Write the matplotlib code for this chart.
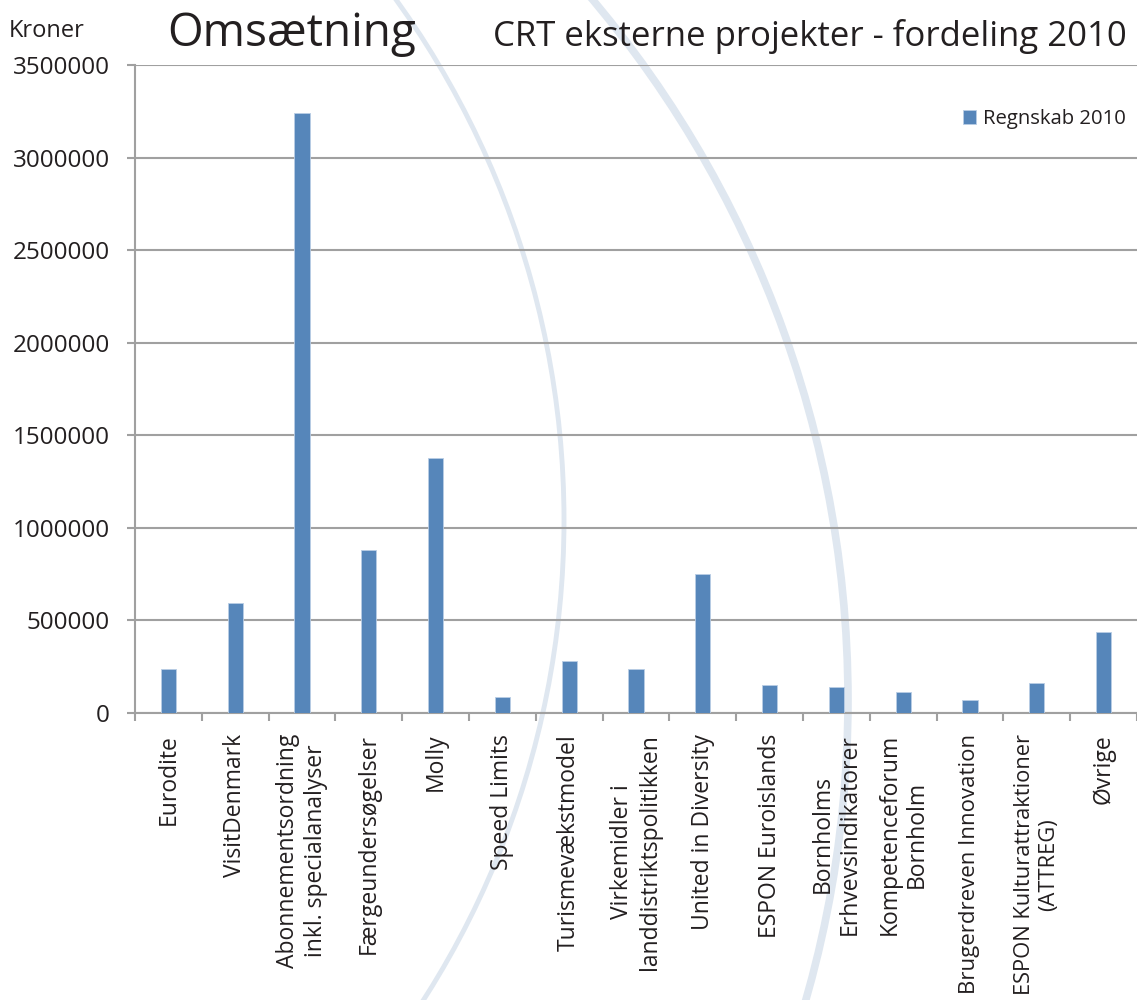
import numpy as np
import matplotlib
matplotlib.use("Agg")
import matplotlib.pyplot as plt
from matplotlib.patches import Circle

plt.rcParams['font.family'] = ['Open Sans', 'DejaVu Sans']

# Data
categories = [
    "Eurodite",
    "VisitDenmark",
    "Abonnementsordning\ninkl. specialanalyser",
    "Færgeundersøgelser",
    "Molly",
    "Speed Limits",
    "Turismevækstmodel",
    "Virkemidler i\nlanddistriktspolitikken",
    "United in Diversity",
    "ESPON Euroislands",
    "Bornholms\nErhvevsindikatorer",
    "Kompetenceforum\nBornholm",
    "Brugerdreven Innovation",
    "ESPON Kulturattraktioner\n(ATTREG)",
    "Øvrige",
]
regnskab_2010 = [240000, 593000, 3243000, 878000, 1380000, 87000, 280000,
                 236000, 749000, 149000, 138000, 115000, 71000, 162000, 435000]
y_ticks = [0, 500000, 1000000, 1500000, 2000000, 2500000, 3000000, 3500000]
series_name = "Regnskab 2010"

BAR_COLOR = "#5686BA"
GRID_COLOR = "#a0a0a0"
TEXT_COLOR = "#231f20"
ARC_COLOR = "#dfe7f0"

W, H = 1137, 1000
fig = plt.figure(figsize=(W / 100, H / 100), dpi=100)

# decorative background arcs (pixel coordinates)
bg = fig.add_axes([0, 0, 1, 1], zorder=0)
bg.set_xlim(0, W)
bg.set_ylim(H, 0)
bg.axis("off")
bg.add_patch(Circle((-326, 520), 890, fill=False, lw=3.5, ec=ARC_COLOR))
bg.add_patch(Circle((-240, 700), 1088, fill=False, lw=5.5, ec=ARC_COLOR))

# main chart
left, right, top, bottom = 135, 1137, 65, 713
ax = fig.add_axes([left / W, 1 - bottom / H, (right - left) / W, (bottom - top) / H], zorder=1)
ax.patch.set_alpha(0)

x = np.arange(len(categories))
ax.bar(x, regnskab_2010, width=0.23, color=BAR_COLOR, edgecolor="#b9cde5",
       linewidth=0.6, zorder=3, label=series_name)

ax.set_xlim(-0.5, len(categories) - 0.5)
ax.set_ylim(0, 3500000)
ax.set_yticks(y_ticks)
ax.set_yticklabels([str(v) for v in y_ticks])
ax.yaxis.grid(True, color=GRID_COLOR, lw=1.5)
ax.set_axisbelow(True)

ax.set_xticks(np.arange(-0.5, len(categories), 1))
ax.set_xticklabels([])
ax.set_xticks(x, minor=True)
ax.set_xticklabels(categories, minor=True, rotation=90, fontsize=16.5,
                   color=TEXT_COLOR, ha="center", va="top", multialignment="center")

ax.tick_params(axis="y", length=6, width=1.5, color=GRID_COLOR, labelsize=17.5,
               labelcolor=TEXT_COLOR, pad=12)
ax.tick_params(axis="x", which="major", length=6, width=1.5, color=GRID_COLOR)
ax.tick_params(axis="x", which="minor", length=0, pad=15)

for s in ["top", "right"]:
    ax.spines[s].set_visible(False)
for s in ["left", "bottom"]:
    ax.spines[s].set_color(GRID_COLOR)
    ax.spines[s].set_linewidth(1.5)

leg = ax.legend(loc="upper right", bbox_to_anchor=(1126 / W, 1 - 109 / H),
                bbox_transform=fig.transFigure, frameon=False, fontsize=14.6,
                handlelength=0.65, handleheight=0.65, handletextpad=0.35,
                borderaxespad=0, borderpad=0)
for t in leg.get_texts():
    t.set_color(TEXT_COLOR)

# titles
fig.text(9 / W, 1 - 37 / H, "Kroner", fontsize=17, color=TEXT_COLOR, va="baseline")
fig.text(167 / W, 1 - 46 / H, "Omsætning", fontsize=33, color=TEXT_COLOR, va="baseline")
fig.text(1127 / W, 1 - 46 / H, "CRT eksterne projekter - fordeling 2010", fontsize=25,
         color=TEXT_COLOR, va="baseline", ha="right")

# shrink the longest category labels just enough to stay inside the figure
fig.canvas.draw()
renderer = fig.canvas.get_renderer()
for lbl in ax.get_xticklabels(minor=True):
    while lbl.get_window_extent(renderer).y0 < 2 and lbl.get_fontsize() > 10:
        lbl.set_fontsize(lbl.get_fontsize() - 0.25)

fig.savefig("out.png", dpi=100)
